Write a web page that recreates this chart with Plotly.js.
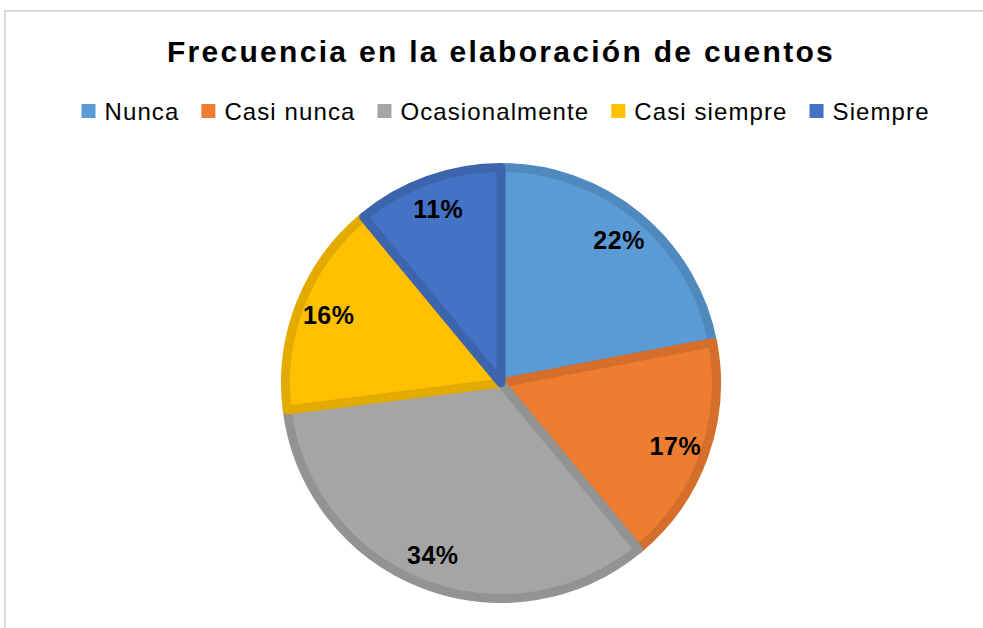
<!DOCTYPE html>
<html>
<head>
<meta charset="utf-8">
<script src="https://cdn.plot.ly/plotly-3.0.1.min.js"></script>
<style>
  html, body { margin: 0; padding: 0; background: #fff; }
  #wrap { position: relative; width: 983px; height: 628px; overflow: hidden; }
  #chart { width: 983px; height: 628px; }
  #frame { position: absolute; left: 4px; top: 10px; width: 1100px; height: 800px;
           border: 2px solid #d9d9d9; pointer-events: none; }
  .gtitle { letter-spacing: 2.3px; }
  .legendtext { letter-spacing: 1.1px; }
  .slicetext text { letter-spacing: 0.5px; }
  .legendpoints path.legendpie { stroke-width: 0 !important; d: path("M11,7H-3V-7H11Z") !important; }
</style>
</head>
<body>
<div id="wrap">
  <div id="chart"></div>
  <div id="frame"></div>
</div>
<script>
// Data
var categories = ["Nunca", "Casi nunca", "Ocasionalmente", "Casi siempre", "Siempre"];
var values = [22, 17, 34, 16, 11];
var fillColors = ["#5B9BD5", "#ED7D31", "#A5A5A5", "#FFC000", "#4472C4"];
var borderColors = ["#4F89BD", "#D46E2A", "#939393", "#E3AB00", "#3C65AE"];
var chartTitle = "Frecuencia en la elaboración de cuentos";

var FONT = "Liberation Sans, Arial, Helvetica, sans-serif";
var W = 983, H = 628;
var cx = 501, cy = 383, rFill = 215.5;
var dom = {
  x: [(cx - rFill) / W, (cx + rFill) / W],
  y: [(H - (cy + rFill)) / H, (H - (cy - rFill)) / H]
};

var mainPie = {
  type: "pie",
  labels: categories,
  values: values,
  sort: false,
  direction: "clockwise",
  rotation: 0,
  domain: dom,
  marker: { colors: fillColors, line: { color: borderColors, width: 9 } },
  textinfo: "none",
  hoverinfo: "label+percent",
  showlegend: true
};

var labelRing = {
  type: "pie",
  labels: categories,
  values: values,
  sort: false,
  direction: "clockwise",
  rotation: 0,
  domain: dom,
  hole: 0.72,
  marker: { colors: categories.map(function(){ return "rgba(0,0,0,0)"; }), line: { width: 0 } },
  textinfo: "percent",
  texttemplate: "%{percent:.0%}",
  textposition: "inside",
  insidetextorientation: "horizontal",
  insidetextfont: { family: FONT, size: 25, color: "#000000", weight: 700 },
  hoverinfo: "skip",
  showlegend: false
};

var layout = {
  width: W, height: H,
  margin: { l: 0, r: 0, t: 0, b: 0 },
  paper_bgcolor: "#ffffff",
  plot_bgcolor: "#ffffff",
  font: { family: FONT, color: "#000000" },
  title: {
    text: chartTitle,
    font: { family: FONT, size: 30, color: "#000000", weight: 700 },
    x: 501 / W, xanchor: "center",
    xref: "container", yref: "container",
    y: 1 - 51 / H, yanchor: "middle"
  },
  showlegend: true,
  legend: {
    orientation: "h",
    x: 500 / W, xanchor: "center",
    y: 1 - 89 / H, yanchor: "top",
    font: { family: FONT, size: 24, color: "#000000" },
    itemwidth: 30,
    traceorder: "normal",
    bgcolor: "rgba(0,0,0,0)"
  }
};

Plotly.newPlot("chart", [mainPie, labelRing], layout, { displayModeBar: false, staticPlot: true });
</script>
</body>
</html>
